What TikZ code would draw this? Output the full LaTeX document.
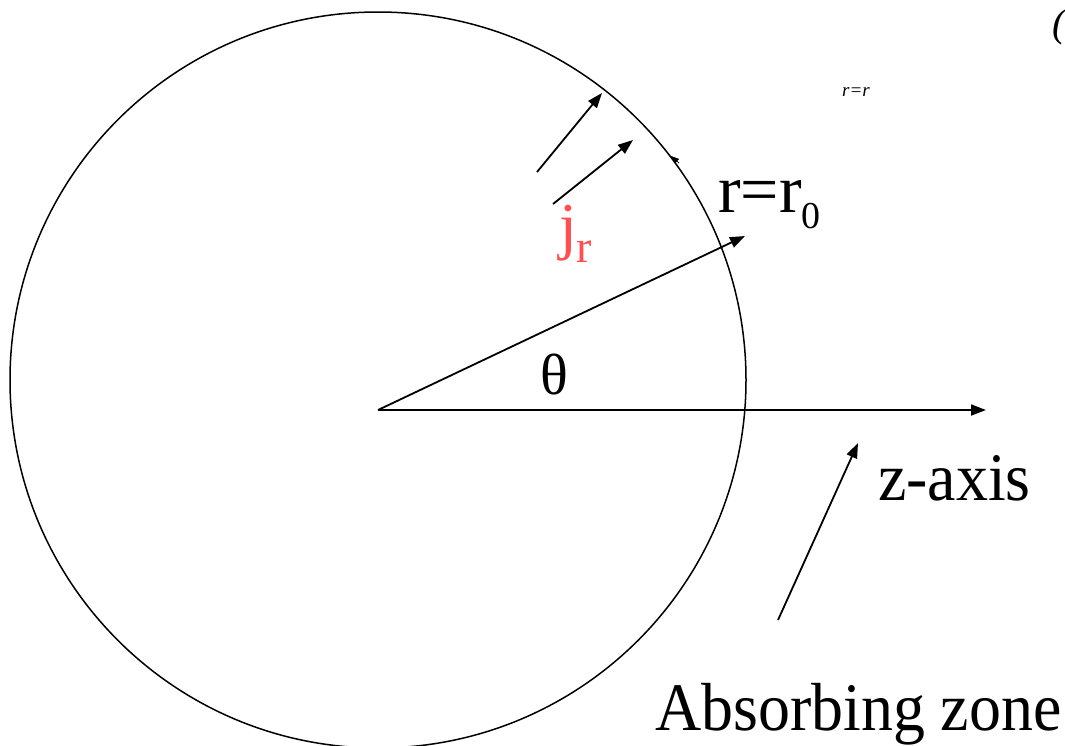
\documentclass[tikz,border=0pt]{standalone}
\usepackage{fontspec}
\setmainfont{Liberation Serif}
\newfontfamily\narrowfont{Liberation Serif}[FakeStretch=0.94]
\usetikzlibrary{arrows.meta}
\definecolor{flux}{HTML}{FF5050}
\tikzset{
  arr/.style={-{Triangle[length=15pt, width=11pt]}, line width=1.8pt},
  tip/.style={-{Triangle[length=8pt, width=6pt]}, line width=0.8pt},
  lbl/.style={anchor=base west, inner sep=0pt, font=\fontsize{68}{80}\selectfont},
  nlbl/.style={lbl, font=\narrowfont\fontsize{68}{80}\selectfont}}

\begin{document}
\begin{tikzpicture}[x=1pt, y=-1pt]
\useasboundingbox (0,0) rectangle (1065,745);
% sphere and axis
\coordinate (c) at (378,380);
\coordinate (o) at (378,410);
\draw[line width=1.5pt] (c) circle[radius=368];
\coordinate (zend) at (986,410);
\coordinate (rend) at (745,236);
\draw[arr] (o) -- (zend);
\draw[arr] (o) -- (rend);
% flux arrows
\coordinate (j1a) at (537,172);
\coordinate (j1b) at (602,93);
\coordinate (j2a) at (553,204);
\coordinate (j2b) at (633,140);
\draw[arr] (j1a) -- (j1b);
\draw[arr] (j2a) -- (j2b);
\coordinate (ta) at (679,163);
\coordinate (tb) at (671,156);
\draw[tip] (ta) -- (tb);
% absorbing zone pointer
\coordinate (aa) at (778,620);
\coordinate (ab) at (858,443);
\draw[arr] (aa) -- (ab);
% labels
\node[lbl] (r0) at (718,212) {r=r\raisebox{-16pt}{\fontsize{38}{40}\selectfont 0}};
\node[lbl, text=flux, font=\fontsize{64}{72}\selectfont] (jr) at (559,247) {j\raisebox{-15pt}{\fontsize{46}{50}\selectfont r}};
\node[lbl, font=\fontsize{58}{64}\selectfont] (th) at (540,394) {θ};
\node[nlbl] (zax) at (878,500) {z-axis};
\node[nlbl] (abs) at (655,730) {Absorbing zone};
\node[anchor=center, inner sep=0pt, font=\fontsize{19}{22}\itshape] (rr) at (856,92) {r=r};
\node[anchor=base east, inner sep=0pt, font=\fontsize{40}{44}\itshape] (cut) at (1066,36) {(};
\end{tikzpicture}
\end{document}
